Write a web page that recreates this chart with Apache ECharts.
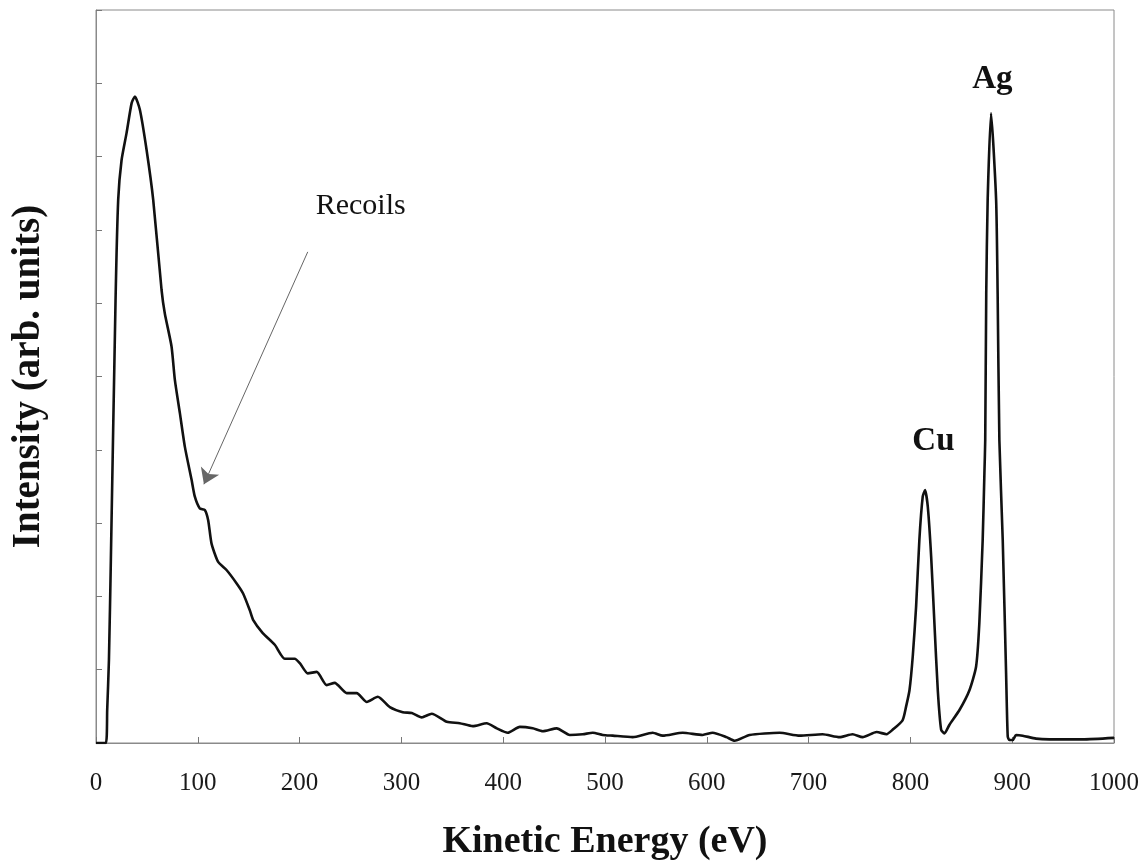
<!DOCTYPE html>
<html>
<head>
<meta charset="utf-8">
<script src="https://cdn.jsdelivr.net/npm/echarts@6/dist/echarts.min.js"></script>
<style>
  html, body { margin: 0; padding: 0; background: #fff; }
  #chart { width: 1147px; height: 867px; }
</style>
</head>
<body>
<div id="chart"></div>
<script>
// Kinetic energy (eV) of each sampled point of the spectrum
const energy = [
  0, 9.7, 11.0, 12.7, 14.6, 19.2, 21.8, 25.1, 30.0, 35.0, 38.2, 43.1, 49.7, 56.2, 64.4,
  67.6, 74.2, 77.5, 82.4, 87.3, 93.9, 97.1, 102.0, 106.9, 110.2, 113.5, 120.0, 128.2,
  138.0, 144.5, 151.1, 154.3, 163.8, 175.6, 185.4, 195.2, 200.2, 208.0, 216.8, 226.6,
  234.5, 246.3, 256.1, 266.0, 276.8, 288.6, 301.3, 310.2, 320.0, 329.8, 344.6, 357.3,
  370.1, 383.8, 393.7, 404.5, 416.3, 429.0, 438.9, 452.6, 465.4, 478.2, 488.0, 497.8,
  507.6, 527.2, 546.8, 556.7, 576.3, 595.9, 605.7, 619.4, 627.3, 642.0, 671.5, 691.1,
  713.7, 730.4, 743.2, 753.0, 766.8, 776.6, 782.5, 792.3, 795.8, 799.1, 802.3, 805.6,
  808.8, 812.1, 814.4, 817.1, 820.4, 823.6, 826.9, 830.2, 833.4, 838.4, 848.2, 858.0,
  864.5, 867.7, 871.0, 872.7, 873.5, 874.5, 875.9, 879.2, 884.2, 885.7, 887.4, 890.7,
  894.0, 895.6, 897.2, 900.5, 903.8, 910.3, 923.4, 936.5, 969.2, 1000
];
// Measured intensity (arb. units) at each energy
const intensity = [
  0, 0, 0.45, 1.13, 2.50, 6.04, 7.41, 7.95, 8.32, 8.73, 8.82, 8.64, 8.09, 7.41, 6.18,
  5.86, 5.41, 4.95, 4.50, 4.04, 3.59, 3.36, 3.20, 3.18, 3.04, 2.72, 2.47, 2.36,
  2.18, 2.04, 1.81, 1.68, 1.50, 1.34, 1.15, 1.15, 1.09, 0.95, 0.97, 0.79,
  0.82, 0.68, 0.68, 0.56, 0.63, 0.49, 0.42, 0.41, 0.35, 0.40, 0.29, 0.27,
  0.23, 0.27, 0.20, 0.14, 0.22, 0.20, 0.16, 0.20, 0.11, 0.12, 0.14, 0.11,
  0.10, 0.08, 0.14, 0.10, 0.14, 0.11, 0.14, 0.08, 0.03, 0.11, 0.14, 0.10,
  0.12, 0.08, 0.12, 0.08, 0.15, 0.12, 0.18, 0.31, 0.50, 0.72, 1.18, 1.86,
  2.77, 3.36, 3.45, 3.22, 2.54, 1.63, 0.72, 0.18, 0.13, 0.25, 0.45, 0.72,
  1.04, 1.63, 2.77, 3.68, 4.13, 6.13, 7.41, 8.59, 7.41, 6.13, 4.13, 2.77,
  0.95, 0.09, 0.04, 0.04, 0.11, 0.10, 0.06, 0.05, 0.05, 0.07
];
const xTicks = [0, 100, 200, 300, 400, 500, 600, 700, 800, 900, 1000];

// Peak labels and the "Recoils" note, placed in data coordinates
const peakLabels = [
  { name: 'Recoils', at: [260, 7.33] },
  { name: 'Cu', at: [822.6, 4.12] },
  { name: 'Ag', at: [880.5, 9.05] }
];
const recoilArrow = { from: [208, 6.70], to: [106, 3.53] };

const serif = "'Liberation Serif', 'Times New Roman', serif";
const points = energy.map((e, i) => [e, intensity[i]]);

const chart = echarts.init(document.getElementById('chart'), null, { renderer: 'canvas' });
chart.setOption({
  animation: false,
  backgroundColor: '#fff',
  grid: {
    left: 96, right: 33, top: 10, bottom: 124,
    show: true, borderColor: '#8a8a8a', borderWidth: 1
  },
  xAxis: {
    type: 'value', min: 0, max: 1000, interval: 100,
    name: 'Kinetic Energy (eV)', nameLocation: 'middle', nameGap: 80,
    nameTextStyle: { fontFamily: serif, fontWeight: 'bold', fontSize: 38, color: '#111' },
    axisLine: { show: true, lineStyle: { color: '#8a8a8a', width: 1 } },
    axisTick: { show: true, inside: true, length: 6, lineStyle: { color: '#777' } },
    axisLabel: {
      margin: 28, fontFamily: serif, fontSize: 25, color: '#1a1a1a',
      formatter: v => (xTicks.includes(v) ? String(v) : '')
    },
    splitLine: { show: false }
  },
  yAxis: {
    type: 'value', min: 0, max: 10, interval: 1,
    name: 'Intensity (arb. units)', nameLocation: 'middle', nameGap: 48,
    nameTextStyle: { fontFamily: serif, fontWeight: 'bold', fontSize: 39, color: '#111' },
    axisLine: { show: true, lineStyle: { color: '#8a8a8a', width: 1 } },
    axisTick: { show: true, inside: true, length: 6, lineStyle: { color: '#777' } },
    axisLabel: { show: false },
    splitLine: { show: false }
  },
  series: [{
    type: 'line',
    data: points,
    showSymbol: false,
    smooth: 0.2,
    lineStyle: { color: '#111', width: 2.6 },
    markLine: {
      silent: true,
      symbol: ['none', 'arrow'],
      symbolSize: 15,
      label: { show: false },
      lineStyle: { color: '#666', width: 1, type: 'solid' },
      data: [[{ coord: recoilArrow.from }, { coord: recoilArrow.to }]]
    },
    markPoint: {
      silent: true,
      symbol: 'circle',
      symbolSize: 0,
      data: peakLabels.map(p => ({
        name: p.name,
        coord: p.at,
        label: {
          show: true,
          position: 'inside',
          formatter: p.name,
          fontFamily: serif,
          fontSize: p.name === 'Recoils' ? 30 : 33,
          fontWeight: p.name === 'Recoils' ? 'normal' : 'bold',
          color: '#111',
          align: 'center',
          verticalAlign: 'middle'
        }
      }))
    }
  }]
});
</script>
</body>
</html>
